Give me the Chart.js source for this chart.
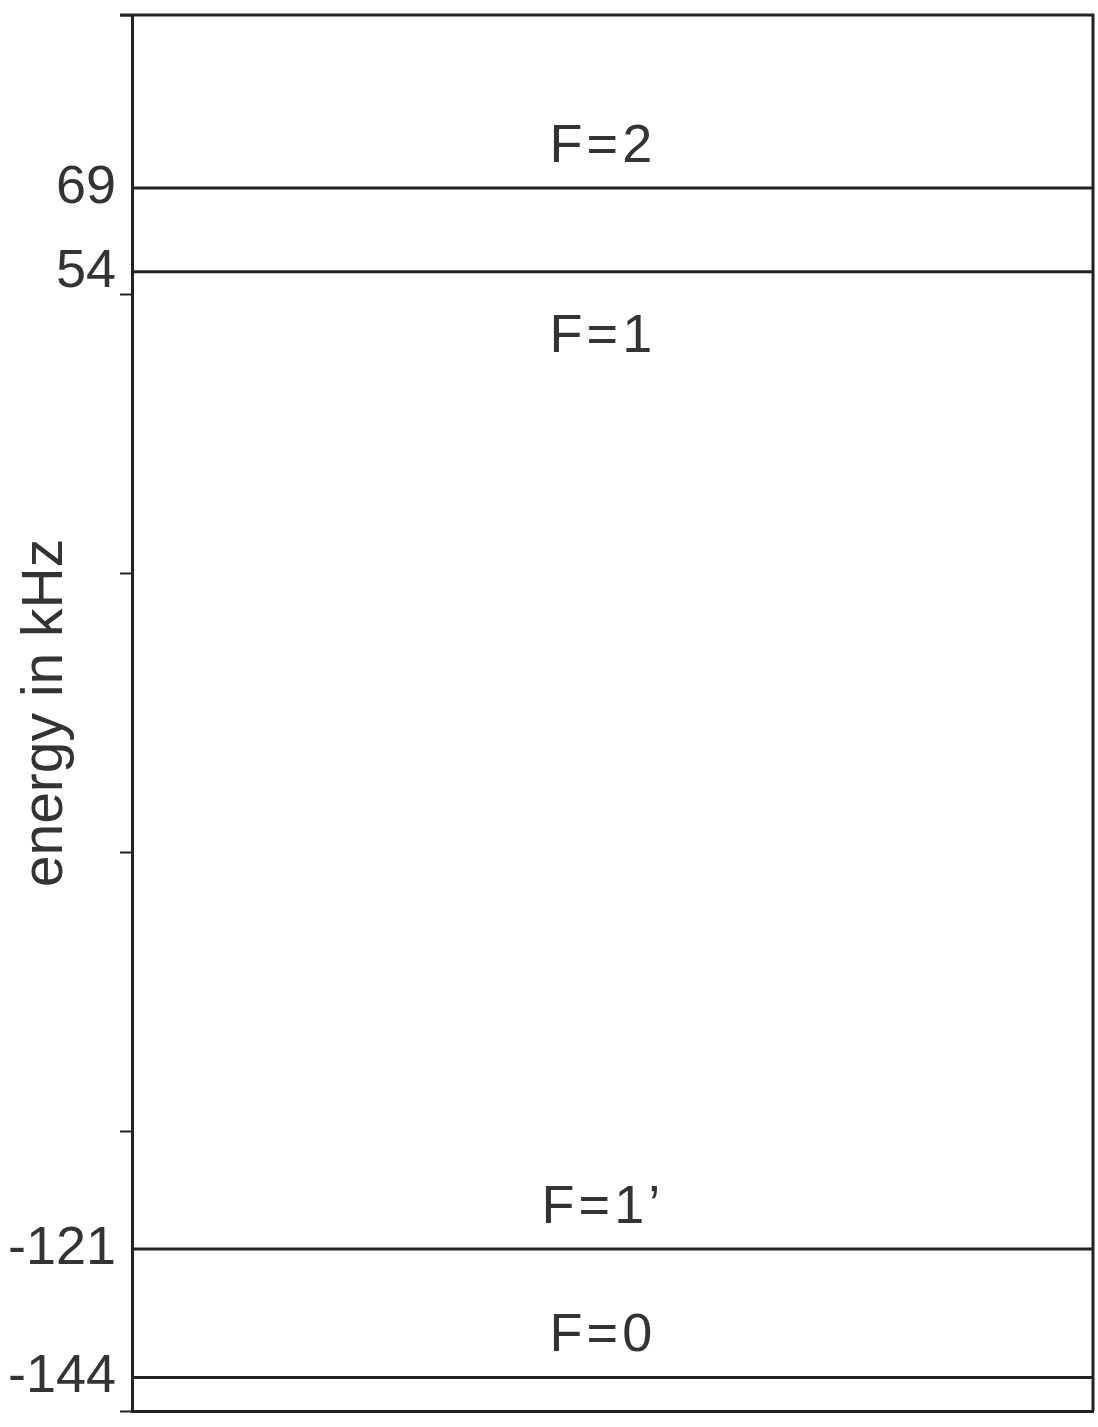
<!DOCTYPE html>
<html>
<head>
<meta charset="utf-8">
<script src="https://cdn.jsdelivr.net/npm/chart.js@4"></script>
<style>
  body { margin: 0; background: #fff; }
</style>
</head>
<body>
<canvas id="niveis" width="1098" height="1427"></canvas>
<script>
// energy levels in kHz
const levelValues = [69, 54, -121, -144];
const levelNames = ["F=2", "F=1", "F=1\u2019", "F=0"];
const tickValues = [-150, -144, -121, -100, -50, 0, 50, 54, 69, 100];

const ink = "#222";
const fontFam = "'Liberation Sans', Arial, Helvetica, sans-serif";

const datasets = levelValues.map(v => ({
  data: [{ x: 0, y: v }, { x: 1, y: v }],
  borderColor: ink,
  borderWidth: 3,
  pointRadius: 0
}));

// top/right frame and level names
const extras = {
  id: "extras",
  afterDraw(chart) {
    const c = chart.ctx;
    const a = chart.chartArea;
    c.save();
    c.strokeStyle = ink;
    c.lineWidth = 3;
    c.beginPath();
    c.moveTo(a.left - 12, a.top);
    c.lineTo(a.right, a.top);
    c.lineTo(a.right, a.bottom);
    c.stroke();

    c.fillStyle = "#333";
    c.font = "54px " + fontFam;
    c.letterSpacing = "4px";
    c.textAlign = "center";
    c.textBaseline = "alphabetic";
    const xs = chart.scales.x;
    const ys = chart.scales.y;
    levelNames.forEach((nome, i) => {
      const py = ys.getPixelForValue(levelValues[i]);
      const off = i === 1 ? 80 : -26;
      c.fillText(nome, xs.getPixelForValue(0.49), py + off);
    });
    c.restore();
  }
};

new Chart(document.getElementById("niveis"), {
  type: "line",
  data: { datasets: datasets },
  options: {
    responsive: false,
    animation: false,
    layout: { padding: { top: 15, bottom: 8, right: 5, left: 0 } },
    plugins: { legend: { display: false }, tooltip: { enabled: false } },
    scales: {
      x: {
        type: "linear",
        min: 0,
        max: 1,
        ticks: { display: false },
        grid: { display: false },
        border: { display: true, color: ink, width: 3 }
      },
      y: {
        type: "linear",
        min: -150,
        max: 100,
        afterBuildTicks: scale => {
          scale.ticks = tickValues.map(v => ({ value: v }));
        },
        afterFit: scale => {
          scale.width = 132;
          scale.paddingTop = 0;
          scale.paddingBottom = 0;
        },
        ticks: {
          autoSkip: false,
          padding: 4,
          color: "#333",
          font: { family: fontFam, size: 54 },
          callback: v => (levelValues.includes(v) ? String(v) : "")
        },
        grid: {
          drawOnChartArea: false,
          tickLength: 12,
          tickWidth: 2,
          tickColor: ctx => (ctx.tick && ctx.tick.value % 50 === 0 ? ink : "rgba(0,0,0,0)")
        },
        border: { display: true, color: ink, width: 3 },
        title: {
          display: true,
          text: "energy in kHz",
          color: "#333",
          font: { family: fontFam, size: 57 },
          padding: { top: 12, bottom: 0 }
        }
      }
    }
  },
  plugins: [extras]
});
</script>
</body>
</html>
